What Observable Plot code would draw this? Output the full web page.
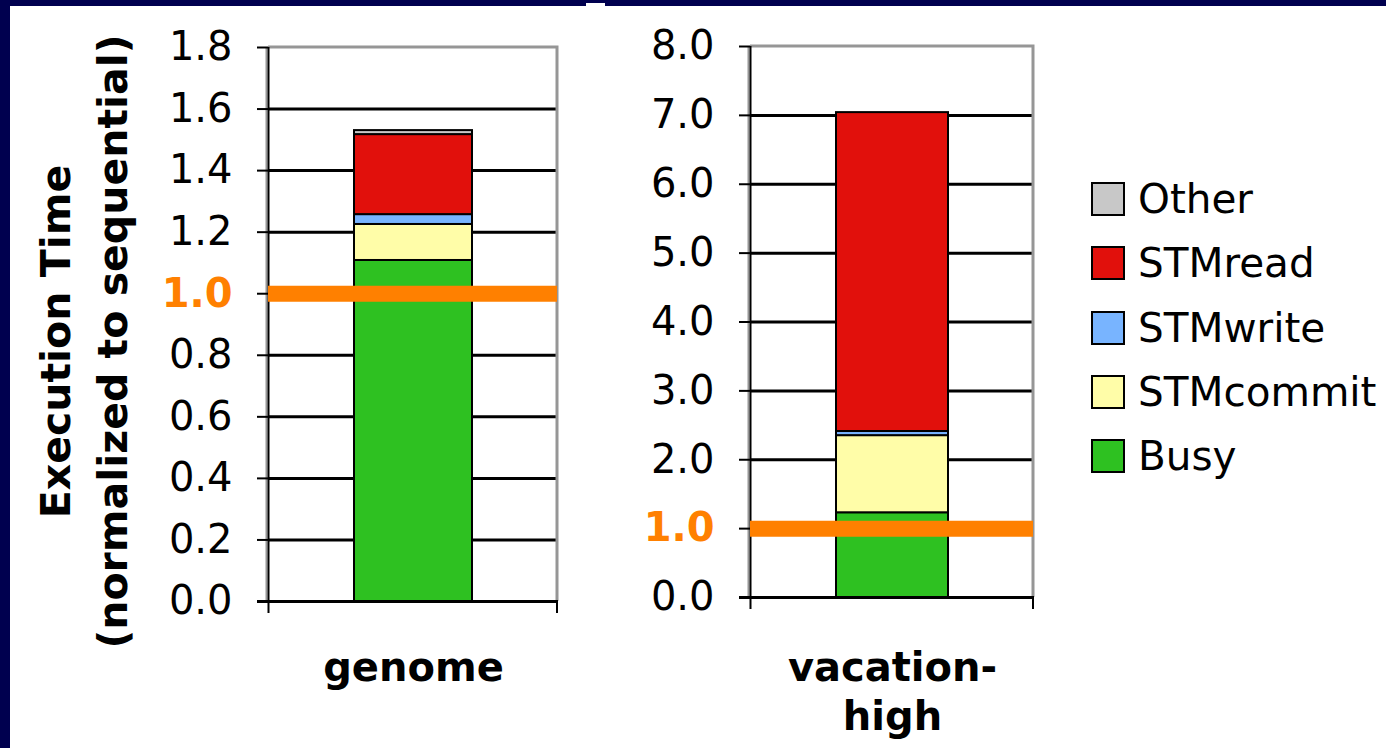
<!DOCTYPE html>
<html>
<head>
<meta charset="utf-8">
<script src="https://cdn.jsdelivr.net/npm/d3@7"></script>
<script src="https://cdn.jsdelivr.net/npm/@observablehq/plot@0.6"></script>
<style>
  html, body { margin: 0; padding: 0; background: #ffffff; }
  #root { position: relative; width: 1386px; height: 748px; overflow: hidden; background: #ffffff; font-family: "DejaVu Sans", Verdana, sans-serif; }
  .navy { position: absolute; background: #00004f; }
  .panel { position: absolute; top: 0; }
  .legend-row { position: absolute; display: flex; align-items: center; font-size: 40.5px; color: #000; white-space: nowrap; }
  .swatch { box-sizing: border-box; width: 34px; height: 34px; border: 2px solid #000; margin-right: 13px; }
</style>
</head>
<body>
<div id="root">
  <div class="navy" style="left:0;top:0;width:1386px;height:6px;"></div>
  <div class="navy" style="left:0;top:0;width:10px;height:748px;"></div>
  <div style="position:absolute;left:586px;top:3px;width:19px;height:3px;background:#fff;"></div>
</div>
<script>
// ---------------- data ----------------
const categories = ["genome", "vacation-high"];
const categoryLabels = ["genome", "vacation-\nhigh"];
const seriesNames = ["Busy", "STMcommit", "STMwrite", "STMread", "Other"];
const seriesColors = ["#2ec121", "#fffda8", "#78b4ff", "#e1100c", "#c8c8c8"];
const genomeValues = [1.108, 0.117, 0.032, 0.260, 0.013];
const vacationValues = [1.23, 1.12, 0.06, 4.63, 0.0];
const genomeTicks = [0, 0.2, 0.4, 0.6, 0.8, 1.0, 1.2, 1.4, 1.6, 1.8];
const vacationTicks = [0, 1, 2, 3, 4, 5, 6, 7, 8];
const legendOrder = ["Other", "STMread", "STMwrite", "STMcommit", "Busy"];
const baselineValue = 1.0;
const yTitle = "Execution Time\n(normalized to sequential)";

const orange = "#ff8000";
const root = document.getElementById("root");

function frameMark(index, scales, values, dims) {
  const {marginLeft, marginRight, marginTop, marginBottom, width, height} = dims;
  const x0 = marginLeft, x1 = width - marginRight, y0 = marginTop, yb = height - marginBottom;
  const g = d3.create("svg:g");
  g.append("path").attr("d", `M${x0},${y0}H${x1}V${yb}`)
    .attr("fill", "none").attr("stroke", "#969696").attr("stroke-width", 3);
  g.append("line").attr("x1", x0 - 1.5).attr("x2", x0 - 1.5).attr("y1", y0).attr("y2", yb)
    .attr("stroke", "#969696").attr("stroke-width", 2);
  g.append("line").attr("x1", x0 + 0.5).attr("x2", x0 + 0.5).attr("y1", y0).attr("y2", yb + 12)
    .attr("stroke", "#000").attr("stroke-width", 2);
  g.append("line").attr("x1", x1).attr("x2", x1).attr("y1", yb).attr("y2", yb + 12)
    .attr("stroke", "#000").attr("stroke-width", 2);
  g.append("line").attr("x1", x0 - 11).attr("x2", x1 + 1).attr("y1", yb + 0.5).attr("y2", yb + 0.5)
    .attr("stroke", "#000").attr("stroke-width", 3);
  return g.node();
}

function makePanel({cat, label, values, ticks, left, width, mL, mR, mT, mB, pad, labelDy, withTitle}) {
  const data = seriesNames.map((s, i) => ({cat, series: s, value: values[i]}));
  const gridTicks = ticks.filter(t => t > 0 && t < ticks[ticks.length - 1]);
  const marks = [
    Plot.ruleY(gridTicks, {stroke: "#000", strokeWidth: 3}),
    Plot.barY(data, {x: "cat", y: "value", fill: "series", stroke: "#000", strokeWidth: 2}),
    frameMark,
    Plot.axisY({ticks, tickSize: 11, tickPadding: 25, strokeWidth: 2, label: null,
      tickFormat: d => d === baselineValue ? "" : d.toFixed(1)}),
    Plot.text([baselineValue], {y: d => d, text: d => d.toFixed(1), frameAnchor: "left",
      textAnchor: "end", dx: -36, fill: orange, fontWeight: "bold"}),
    Plot.text([label], {x: () => cat, text: d => d, frameAnchor: "bottom", lineAnchor: "top",
      dy: labelDy, fontWeight: "bold", lineHeight: 1.22}),
    Plot.ruleY([baselineValue], {stroke: orange, strokeWidth: 16})
  ];
  if (withTitle) {
    marks.push(Plot.text([yTitle], {text: d => d, frameAnchor: "left", rotate: -90,
      textAnchor: "middle", lineAnchor: "middle", dx: 80 - mL, dy: 17, fontWeight: "bold",
      fontSize: 41, lineHeight: 1.38}));
  }
  const chart = Plot.plot({
    width, height: 748,
    marginLeft: mL, marginRight: mR, marginTop: mT, marginBottom: mB,
    style: {fontFamily: "DejaVu Sans", fontSize: "40px", background: "transparent", color: "#000", overflow: "visible"},
    x: {domain: [cat], axis: null, padding: pad},
    y: {domain: [ticks[0], ticks[ticks.length - 1]], axis: null},
    color: {domain: seriesNames, range: seriesColors},
    marks
  });
  chart.classList.add("panel");
  chart.style.left = left + "px";
  root.appendChild(chart);
}

makePanel({cat: categories[0], label: categoryLabels[0], values: genomeValues, ticks: genomeTicks,
  left: 0, width: 580, mL: 268, mR: 23, mT: 47, mB: 147, pad: 0.42, labelDy: 45, withTitle: true});
makePanel({cat: categories[1], label: categoryLabels[1], values: vacationValues, ticks: vacationTicks,
  left: 560, width: 500, mL: 190, mR: 27, mT: 46, mB: 151, pad: 0.433, labelDy: 49, withTitle: false});

// legend
const rowTop = 199, rowStep = 64.25;
legendOrder.forEach((name, i) => {
  const row = document.createElement("div");
  row.className = "legend-row";
  row.style.left = "1091px";
  row.style.top = (rowTop + i * rowStep - 25) + "px";
  row.style.height = "50px";
  const sw = document.createElement("div");
  sw.className = "swatch";
  sw.style.background = seriesColors[seriesNames.indexOf(name)];
  const tx = document.createElement("span");
  tx.textContent = name;
  row.appendChild(sw);
  row.appendChild(tx);
  root.appendChild(row);
});
</script>
</body>
</html>
